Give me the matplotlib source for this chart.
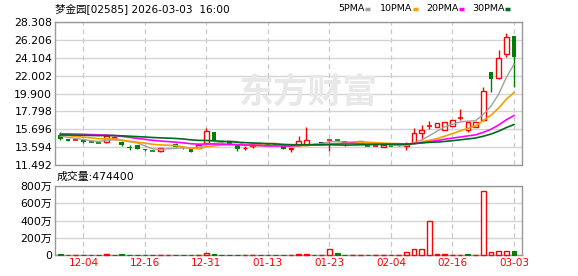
import numpy as np
import pandas as pd
import matplotlib
matplotlib.use('Agg')
import matplotlib.pyplot as plt
from matplotlib.lines import Line2D
from matplotlib.patches import Ellipse

plt.rcParams['font.family'] = ['DejaVu Sans', 'Noto Sans CJK SC']

# closes before 12-01, only used so the MAs start at the right level
prev_closes = [14.62, 14.70, 14.85, 14.95, 14.80, 14.66, 14.72, 14.90, 14.88, 14.75,
               14.70, 14.82, 14.78, 14.80, 14.77, 15.60, 15.85, 15.90, 15.70, 15.75,
               15.55, 15.40, 15.20, 15.10, 15.15, 15.10, 15.05, 14.95, 14.90]

opens = [15.04, 14.57, 14.44, 14.46, 14.27, 14.09, 14.19, 14.57, 14.26, 13.64,
         13.87, 13.40, 13.18, 13.17, 13.90, 14.02, 13.55, 13.37, 13.52, 14.07,
         15.40, 14.37, 14.26, 13.87, 13.46, 13.79, 14.10, 13.85, 13.86, 13.87,
         13.37, 13.83, 13.90, 14.10, 14.05, 14.43, 14.43, 14.30, 14.16, 14.14,
         13.74, 13.78, 13.64, 13.71, 13.90, 13.75, 14.07, 15.31, 16.08, 16.01,
         15.62, 16.09, 17.02, 15.62, 16.01, 16.80, 22.38, 21.68, 24.49, 26.63]
highs = [15.36, 14.63, 14.48, 14.48, 14.28, 14.12, 15.16, 14.90, 14.30, 13.83,
         13.90, 13.44, 13.20, 13.50, 13.92, 14.05, 13.60, 13.40, 13.85, 15.86,
         15.43, 14.40, 14.28, 13.90, 13.75, 14.17, 14.19, 13.88, 13.90, 13.90,
         13.50, 14.92, 15.98, 14.14, 14.05, 14.45, 14.43, 14.32, 14.18, 14.32,
         13.78, 13.82, 13.85, 13.74, 13.92, 14.26, 15.89, 16.21, 16.70, 16.43,
         16.55, 16.82, 18.05, 16.62, 16.62, 20.70, 22.40, 24.99, 26.95, 26.65]
lows = [14.46, 14.30, 14.42, 14.07, 14.24, 14.08, 14.15, 14.55, 13.79, 13.25,
        13.40, 13.22, 13.15, 13.02, 13.85, 13.60, 13.45, 13.02, 13.48, 14.02,
        14.30, 14.14, 13.87, 13.20, 13.28, 13.55, 13.90, 13.82, 13.80, 13.40,
        13.05, 13.80, 13.88, 13.99, 14.05, 13.22, 14.40, 13.72, 14.14, 14.12,
        13.72, 13.76, 13.62, 13.70, 13.70, 13.28, 14.05, 14.46, 15.70, 15.99,
        15.60, 16.07, 16.80, 15.43, 15.99, 16.70, 20.11, 21.56, 24.14, 20.70]
closes = [14.57, 14.34, 14.46, 14.26, 14.25, 14.10, 14.96, 14.84, 13.87, 13.48,
          13.40, 13.25, 13.16, 13.48, 13.87, 13.64, 13.52, 13.05, 13.83, 15.51,
          14.34, 14.17, 13.90, 13.44, 13.50, 13.99, 13.95, 13.86, 13.84, 13.44,
          13.48, 14.30, 14.40, 14.05, 14.05, 14.42, 14.41, 14.10, 14.16, 14.30,
          13.76, 13.80, 13.83, 13.72, 13.75, 13.99, 15.31, 15.62, 16.10, 16.41,
          16.53, 16.80, 17.00, 16.60, 16.60, 20.23, 21.60, 24.02, 26.48, 24.21]
volumes = [60000, 40000, 30000, 50000, 30000, 40000, 90000, 50000, 60000, 50000,
           40000, 30000, 30000, 50000, 30000, 40000, 30000, 40000, 50000, 270000,
           60000, 40000, 30000, 40000, 30000, 40000, 30000, 30000, 30000, 40000,
           30000, 60000, 60000, 30000, 30000, 660000, 230000, 40000, 30000, 40000,
           30000, 30000, 40000, 30000, 40000, 310000, 660000, 660000, 3940000, 60000,
           60000, 50000, 40000, 60000, 50000, 7420000, 310000, 430000, 430000, 474400]

tick_pos = [3, 11, 19, 27, 35, 43, 51, 59]
tick_labels = ['12-04', '12-16', '12-31', '01-13', '01-23', '02-04', '02-16', '03-03']
price_ticks = [11.492, 13.594, 15.696, 17.798, 19.900, 22.002, 24.104, 26.206, 28.308]
vol_ticks = [0, 2e6, 4e6, 6e6, 8e6]
vol_labels = ['0', '200万', '400万', '600万', '800万']
ma_periods = [5, 10, 20, 30]
ma_colors = ['#a0a0a0', '#f5a000', '#ff00ff', '#006a1e']

RED = '#ff0000'
GREEN = '#008000'
W, H = 578, 276

n = len(closes)
full = pd.Series(prev_closes + closes)
mas = [full.rolling(p).mean().values[len(prev_closes):] for p in ma_periods]

fig = plt.figure(figsize=(W / 100, H / 100), dpi=100)
ax = fig.add_axes([55 / W, 1 - 165.3 / H, 467 / W, 143.6 / H])
axv = fig.add_axes([55 / W, 1 - 255 / H, 467 / W, 69 / H])

# watermark
fig.text(308 / W, 1 - 92 / H, '东方财富', color='#e8e8e8', fontsize=25,
         fontweight='bold', ha='center', va='center', zorder=0,
         family=['Noto Sans CJK SC'])
fig.add_artist(Ellipse((215 / W, 1 - 92 / H), 22 / W, 36 / H, angle=-20,
                       color='#ebebeb', zorder=0))

for i in range(n):
    o, h, l, c = opens[i], highs[i], lows[i], closes[i]
    prev = closes[i - 1] if i > 0 else prev_closes[-1]
    if abs(c - o) < 0.025:
        col = RED if c > prev else (GREEN if c < prev else 'black')
    else:
        col = RED if c > o else GREEN
    ax.vlines(i, l, h, color=col, lw=1, zorder=2)
    if abs(c - o) < 0.025:
        ax.hlines(c, i - 0.32, i + 0.32, color=col, lw=1.2, zorder=3)
    elif c > o:
        ax.bar(i, c - o, bottom=o, width=0.6, facecolor='white', edgecolor=col, lw=1, zorder=3)
    else:
        ax.bar(i, o - c, bottom=c, width=0.62, color=col, lw=0, zorder=3)

    vcol = RED if c >= prev else GREEN
    if vcol == RED:
        axv.bar(i, volumes[i], width=0.6, facecolor='white', edgecolor=RED, lw=1,
                zorder=3, clip_on=False)
    else:
        axv.bar(i, volumes[i], width=0.62, color=GREEN, lw=0.8, edgecolor=GREEN,
                zorder=3, clip_on=False)

for m, col, p in zip(mas, ma_colors, ma_periods):
    ax.plot(range(n), m, color=col, lw=1.0 if p == 5 else 1.2, zorder=4)

for a in (ax, axv):
    a.set_xlim(-0.69, 60.04)
    a.set_xticks(tick_pos)
    a.grid(axis='y', color='#d4d4d4', lw=1, ls='-')
    a.grid(axis='x', color='#c8c8c8', lw=0.9, ls=(0, (4, 3)))
    a.set_axisbelow(True)
    a.tick_params(length=0, labelsize=7.8, pad=2)
    for s in a.spines.values():
        s.set_color('#999999')
        s.set_linewidth(1)

ax.set_ylim(11.492, 28.308)
ax.set_yticks(price_ticks)
ax.set_yticklabels(['%.3f' % t for t in price_ticks])
ax.set_xticklabels([])

axv.set_ylim(0, 8e6)
axv.set_yticks(vol_ticks)
axv.set_yticklabels(vol_labels)
axv.set_xticklabels(tick_labels, color=RED, fontsize=7.5)

# header texts
fig.text(55 / W, 1 - 8.5 / H, '梦金园[02585] 2026-03-03  16:00', fontsize=7.6,
         ha='left', va='center')
fig.text(57 / W, 1 - 177 / H, '成交量:474400', fontsize=7.8, ha='left', va='center')

leg_x = [338, 380, 426, 472]
for lx, p, col in zip(leg_x, ma_periods, ma_colors):
    fig.text(lx / W, 1 - 8.5 / H, '%dPMA' % p, fontsize=6.8, ha='left', va='center')
    dx = 27 if p == 5 else 33
    fig.add_artist(Line2D([(lx + dx) / W, (lx + dx + 5) / W], [1 - 8.5 / H] * 2,
                          color=col, lw=2.5, solid_capstyle='butt',
                          transform=fig.transFigure))

fig.savefig('out.png', dpi=100)
